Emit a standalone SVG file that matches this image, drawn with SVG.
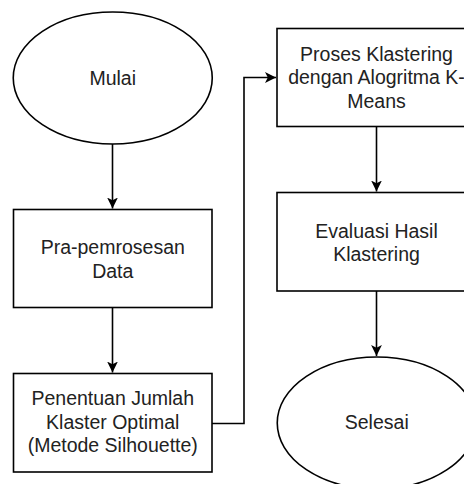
<svg xmlns="http://www.w3.org/2000/svg" width="464" height="484" viewBox="0 0 464 484">
<defs>
<style>
.shape{fill:#fff;stroke:#000;stroke-width:1.6}
.edge{fill:none;stroke:#000;stroke-width:1.6}
text{font-family:"Liberation Sans",Arial,Helvetica,sans-serif;font-size:19.5px;fill:#222;text-anchor:middle}
</style>
<marker id="arr" viewBox="0 0 12 12" refX="11" refY="6" markerWidth="12" markerHeight="12" markerUnits="userSpaceOnUse" orient="auto">
<path d="M0,0.6 L11,6 L0,11.4 L2.8,6 Z" fill="#000"/>
</marker>
</defs>
<rect width="464" height="484" fill="#fff"/>
<g id="connectors">
<path class="edge" d="M112.5,144 V208.5" marker-end="url(#arr)"/>
<path class="edge" d="M112.5,307.5 V372.5" marker-end="url(#arr)"/>
<path class="edge" d="M212,423.5 H244 V77.5 H276" marker-end="url(#arr)"/>
<path class="edge" d="M376.5,126.5 V191.5" marker-end="url(#arr)"/>
<path class="edge" d="M376.5,291 V356" marker-end="url(#arr)"/>
</g>
<g id="mulai">
<ellipse class="shape" cx="112.75" cy="78" rx="99.5" ry="66"/>
<text x="112.75" y="84.5">Mulai</text>
</g>
<g id="pra">
<rect class="shape" x="13.5" y="209.5" width="198.5" height="98"/>
<text x="112.75" y="254">Pra-pemrosesan</text>
<text x="112.75" y="277.5">Data</text>
</g>
<g id="penentuan">
<rect class="shape" x="13.5" y="373.5" width="198.5" height="98.5"/>
<text x="112.75" y="405">Penentuan Jumlah</text>
<text x="112.75" y="428.5">Klaster Optimal</text>
<text x="112.75" y="452">(Metode Silhouette)</text>
</g>
<g id="proses">
<rect class="shape" x="277" y="28.5" width="199.5" height="98"/>
<text x="376.5" y="60.5">Proses Klastering</text>
<text x="376.5" y="84">dengan Alogritma K-</text>
<text x="376.5" y="107.5">Means</text>
</g>
<g id="evaluasi">
<rect class="shape" x="277" y="192.5" width="199.5" height="98.5"/>
<text x="376.5" y="237.5">Evaluasi Hasil</text>
<text x="376.5" y="261">Klastering</text>
</g>
<g id="selesai">
<ellipse class="shape" cx="376.75" cy="423" rx="99.5" ry="66"/>
<text x="376.75" y="429">Selesai</text>
</g>
</svg>
